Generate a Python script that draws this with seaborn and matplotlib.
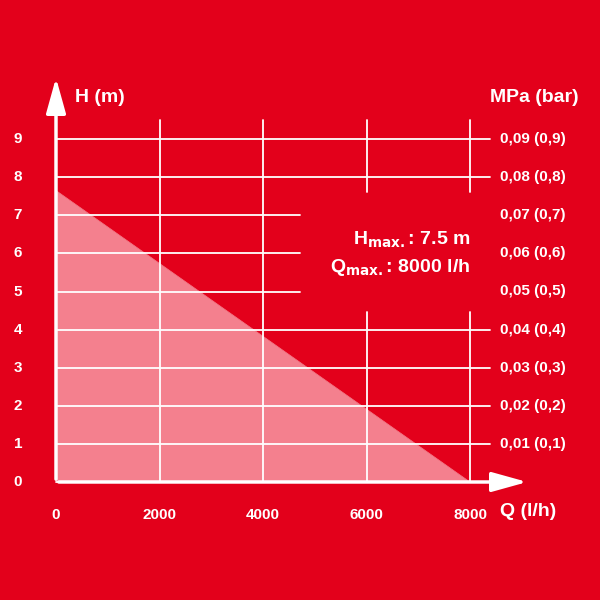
import matplotlib
matplotlib.use("Agg")
import matplotlib.pyplot as plt
import seaborn as sns
import numpy as np

q_flow = [0, 8000]
h_head = [7.65, 0]
y_ticks = [0, 1, 2, 3, 4, 5, 6, 7, 8, 9]
x_ticks = [0, 2000, 4000, 6000, 8000]
right_labels = ["", "0,01 (0,1)", "0,02 (0,2)", "0,03 (0,3)", "0,04 (0,4)", "0,05 (0,5)",
                "0,06 (0,6)", "0,07 (0,7)", "0,08 (0,8)", "0,09 (0,9)"]

RED = "#E3001B"
sns.set_theme(style="white")
plt.rcParams['font.family'] = ['Liberation Sans', 'DejaVu Sans']
fig = plt.figure(figsize=(6, 6), dpi=100, facecolor=RED)
ax = fig.add_axes([0, 0, 1, 1])
ax.set_facecolor(RED)
sx = 0.05175  # px per unit x
sy = 38.1
ax.set_xlim(-56 / sx, (600 - 56) / sx)
ax.set_ylim(-(600 - 482) / sy, 482 / sy)
ax.axis("off")

def px(p): return (p - 56) / sx
def py(p): return (482 - p) / sy

ax.fill_between(q_flow, h_head, 0, color="#F4808E", lw=0, zorder=1)
sns.lineplot(x=q_flow, y=h_head, ax=ax, color="#F4808E", lw=0.5, zorder=1)

lw = 1.3
for y in y_ticks:
    xe = px(300) if y in (5, 6, 7) else px(490)
    ax.plot([0, xe], [y, y], color="white", lw=lw, zorder=2)
    ax.text(px(18), y, str(y), color="white", ha="center", va="center",
            fontsize=11, fontweight="bold")
    if right_labels[y]:
        ax.text(px(500), y, right_labels[y], color="white", ha="left", va="center",
                fontsize=11, fontweight="bold")
for x in x_ticks[1:]:
    if x in (2000, 4000):
        ax.plot([x, x], [0, py(120)], color="white", lw=lw, zorder=2)
    else:
        ax.plot([x, x], [0, py(312)], color="white", lw=lw, zorder=2)
        ax.plot([x, x], [py(192), py(120)], color="white", lw=lw, zorder=2)
for x in x_ticks:
    ax.text(x, py(515), str(x), color="white", ha="center", va="center",
            fontsize=11, fontweight="bold")

ax.annotate("", xy=(0, py(75)), xytext=(0, 0),
            arrowprops=dict(arrowstyle="-|>,head_length=1.8,head_width=0.5", color="white", lw=2.5))
ax.annotate("", xy=(px(530), 0), xytext=(0, 0),
            arrowprops=dict(arrowstyle="-|>,head_length=1.8,head_width=0.5", color="white", lw=2.5))

ax.text(px(75), py(97), "H (m)", color="white", fontsize=14, fontweight="bold", va="center")
ax.text(px(490), py(97), "MPa (bar)", color="white", fontsize=14, fontweight="bold", va="center")
ax.text(px(500), py(512), "Q (l/h)", color="white", fontsize=14, fontweight="bold", va="center")
ax.text(px(470), py(240), r"H$_{\mathbf{max.}}$: 7.5 m", color="white", fontsize=14,
        fontweight="bold", ha="right", va="center")
ax.text(px(470), py(268), r"Q$_{\mathbf{max.}}$: 8000 l/h", color="white", fontsize=14,
        fontweight="bold", ha="right", va="center")

fig.savefig("out.png", dpi=100, facecolor=RED)
